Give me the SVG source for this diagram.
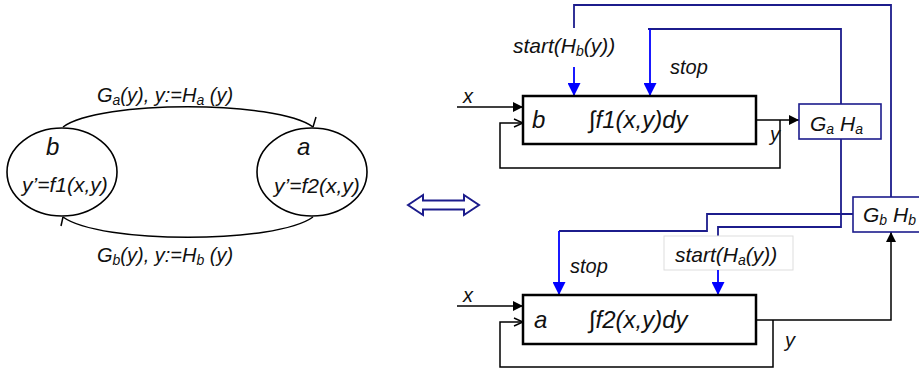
<svg xmlns="http://www.w3.org/2000/svg" width="919" height="371" viewBox="0 0 919 371">
<defs>
<style>
text{font-family:"Liberation Sans",Arial,sans-serif;font-style:italic;fill:#111}
.lbl{font-size:20px}
.eq{font-size:21px}
.sig{font-size:21px}
.big{font-size:24px}
.int{font-size:24px}
.sub{font-size:14px}
.blk{fill:#fff;stroke:#000;stroke-width:2.5}
.gh{fill:#fff;stroke:#1c1c8c;stroke-width:1.6}
.ln{fill:none;stroke:#000;stroke-width:1.5}
.nv{fill:none;stroke:#1c1c8c;stroke-width:1.8}
.bl{fill:none;stroke:#0000ff;stroke-width:1.8}
.el{fill:#fff;stroke:#000;stroke-width:1.6}
</style>
<marker id="fa" viewBox="0 0 10 10" refX="10" refY="5" markerWidth="10" markerHeight="10" markerUnits="userSpaceOnUse" orient="auto"><path d="M0,0 L10,5 L0,10 Z" fill="#000"/></marker>
<marker id="oa" viewBox="0 0 10 10" refX="10" refY="5" markerWidth="10" markerHeight="10" markerUnits="userSpaceOnUse" orient="auto"><path d="M1,1 L10,5 L1,9" fill="none" stroke="#000" stroke-width="1.5"/></marker>
<marker id="ba" viewBox="0 0 12 12" refX="12" refY="6" markerWidth="13" markerHeight="13" markerUnits="userSpaceOnUse" orient="auto"><path d="M0,0 L12,6 L0,12 Z" fill="#0000ff"/></marker>
</defs>
<rect width="919" height="371" fill="#fff"/>

<!-- left state diagram -->
<g id="connectors-left">
<path class="ln" d="M63,127 C100,100 276,100 313,127"/>
<path class="ln" d="M313,127 L316,117"/>
<path class="ln" d="M313,217 C276,244 100,244 63,217"/>
<path class="ln" d="M63,217 L61,226"/>
<text class="lbl" x="97" y="102">G<tspan class="sub" dy="3">a</tspan><tspan dy="-3">(y), y:=H</tspan><tspan class="sub" dy="3">a</tspan><tspan dy="-3"> (y)</tspan></text>
<text class="lbl" x="97" y="262">G<tspan class="sub" dy="3">b</tspan><tspan dy="-3">(y), y:=H</tspan><tspan class="sub" dy="3">b</tspan><tspan dy="-3"> (y)</tspan></text>
</g>
<g id="state-b">
<ellipse class="el" cx="62" cy="172" rx="55" ry="44"/>
<text class="big" x="46" y="155">b</text>
<text class="eq" x="22" y="192">y’=f1(x,y)</text>
</g>
<g id="state-a">
<ellipse class="el" cx="312" cy="172" rx="55" ry="44"/>
<text class="big" x="297" y="155">a</text>
<text class="eq" x="274" y="193">y’=f2(x,y)</text>
</g>

<g id="equiv">
<polygon points="408,205 423,195 423,200.5 464,200.5 464,195 479,205 464,215 464,209.5 423,209.5 423,215" fill="#fff" stroke="#1c1c8c" stroke-width="2"/>
</g>

<!-- right block diagram connectors -->
<g id="connectors">
<path class="ln" d="M457,107 H523" marker-end="url(#fa)"/>
<path class="ln" d="M756,120 H799" marker-end="url(#fa)"/>
<path class="ln" d="M780,120 V168 H500 V123 H523" marker-end="url(#oa)"/>
<path class="ln" d="M457,306 H523" marker-end="url(#fa)"/>
<path class="ln" d="M756,320 H891 V232" marker-end="url(#fa)"/>
<path class="ln" d="M773,320 V367 H500 V322 H523" marker-end="url(#oa)"/>

<path class="nv" d="M574,28 V5 H891 V197"/>
<path class="bl" d="M574,67 V96" marker-end="url(#ba)"/>
<path class="nv" d="M648,29 H841 V104"/>
<path class="bl" d="M650,29 V96" marker-end="url(#ba)"/>
<path class="nv" d="M841,139 V227 H718 V236"/>
<path class="nv" d="M853,214 H707 V231 H559"/>
<path class="bl" d="M559,231 V295" marker-end="url(#ba)"/>
<rect x="664" y="236" width="129" height="34" fill="#fff" stroke="#dddddd" stroke-width="1"/>
<path class="bl" d="M718,270 V295" marker-end="url(#ba)"/>

<text class="sig" x="513" y="53">start(H<tspan class="sub" dy="3">b</tspan><tspan dy="-3">(y))</tspan></text>
<text class="lbl" x="670" y="74">stop</text>
<text class="lbl" x="570" y="273">stop</text>
<text class="sig" x="675" y="262">start(H<tspan class="sub" dy="3">a</tspan><tspan dy="-3">(y))</tspan></text>
<text class="lbl" x="463" y="103">x</text>
<text class="lbl" x="463" y="302">x</text>
<text class="lbl" x="770" y="141">y</text>
<text class="lbl" x="785" y="347">y</text>
</g>

<g id="block-b">
<rect class="blk" x="523" y="96" width="233" height="48"/>
<text class="big" x="532" y="128">b</text>
<text class="int" x="589" y="128">∫f1(x,y)dy</text>
</g>
<g id="block-a">
<rect class="blk" x="523" y="295" width="233" height="49"/>
<text class="big" x="534" y="328">a</text>
<text class="int" x="589" y="328">∫f2(x,y)dy</text>
</g>
<g id="GaHa">
<rect class="gh" x="799" y="104" width="82" height="35"/>
<text class="sig" x="810" y="131">G<tspan class="sub" dy="3">a</tspan><tspan dy="-3"> H</tspan><tspan class="sub" dy="3">a</tspan></text>
</g>
<g id="GbHb">
<rect class="gh" x="853" y="197" width="72" height="35"/>
<text class="sig" x="863" y="222">G<tspan class="sub" dy="3">b</tspan><tspan dy="-3"> H</tspan><tspan class="sub" dy="3">b</tspan></text>
</g>
</svg>
